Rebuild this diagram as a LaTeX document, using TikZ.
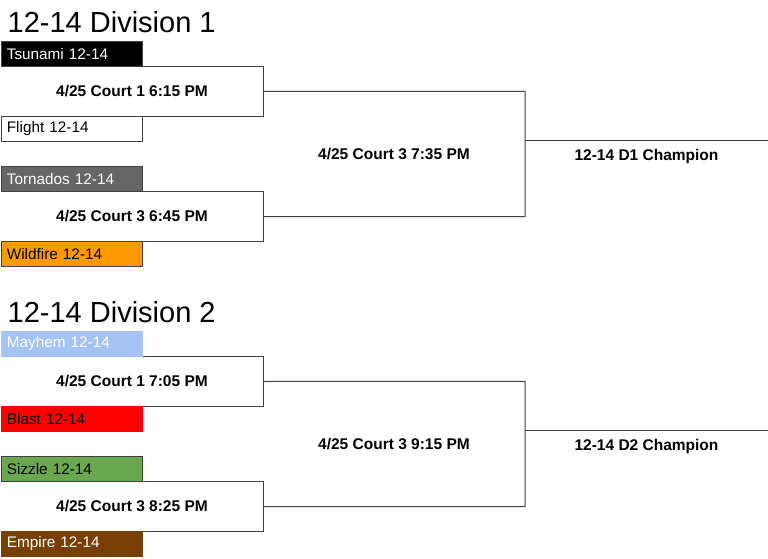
\documentclass[tikz,border=0pt]{standalone}
\usepackage{fontspec}
\setmainfont{Liberation Sans}
\definecolor{tornado}{HTML}{666666}
\definecolor{wildfire}{HTML}{FF9900}
\definecolor{mayhem}{HTML}{A4C2F4}
\definecolor{blast}{HTML}{FF0000}
\definecolor{sizzle}{HTML}{6AA84F}
\definecolor{empire}{HTML}{783F04}
\definecolor{edge}{HTML}{404040}
\tikzset{
  team/.style={anchor=north west, minimum width=141bp, minimum height=25bp, inner ysep=0pt, inner xsep=5.5bp, text width=130bp, align=left, draw=edge, line width=0.8bp, font=\fontsize{15.3bp}{18bp}\selectfont},
  match/.style={minimum width=262bp, minimum height=50bp, inner sep=0pt, font=\bfseries\fontsize{15.5bp}{18bp}\selectfont},
  round/.style={minimum width=262bp, minimum height=125bp, inner sep=0pt, font=\bfseries\fontsize{15.5bp}{18bp}\selectfont},
  champ/.style={minimum width=243bp, minimum height=30bp, inner sep=0pt, font=\bfseries\fontsize{15.5bp}{18bp}\selectfont},
  title/.style={anchor=west, inner sep=0pt, font=\fontsize{29bp}{34bp}\selectfont},
  bracket/.style={draw=edge, line width=1bp}
}
\begin{document}
\begin{tikzpicture}[x=1bp,y=-1bp]
            \useasboundingbox [fill=white] (0,0) rectangle (768,559);
            % division 1
            \node [title] (d1) at (7.5,22) {12-14 Division 1};
            \node [match] (m1) at (132,91.5) {4/25 Court 1 6:15 PM};
            \node [match] (m2) at (132,216.5) {4/25 Court 3 6:45 PM};
            \node [round] (s1) at (394,154) {4/25 Court 3 7:35 PM};
            \node [champ] (c1) at (646.5,156) {12-14 D1 Champion};
            \draw [bracket] (m1.north west) -- (m1.north east) -- (m1.south east) -- (m1.south west);
            \draw [bracket] (m2.north west) -- (m2.north east) -- (m2.south east) -- (m2.south west);
            \draw [bracket] (m1.east) -- (s1.north east) -- (s1.south east) -- (m2.east);
            \draw [bracket] (c1.north west) -- (c1.north east);
            \node [team, fill=black, text=white] (tsunami) at (1,41) {Tsunami 12-14};
            \node [team, fill=white] (flight) at (1,116) {Flight 12-14};
            \node [team, fill=tornado, text=white] (tornados) at (1,166) {Tornados 12-14};
            \node [team, fill=wildfire] (wildfire) at (1,241) {Wildfire 12-14};
            % division 2
            \node [title] (d2) at (7.5,312) {12-14 Division 2};
            \node [match] (m3) at (132,381.5) {4/25 Court 1 7:05 PM};
            \node [match] (m4) at (132,506.5) {4/25 Court 3 8:25 PM};
            \node [round] (s2) at (394,444) {4/25 Court 3 9:15 PM};
            \node [champ] (c2) at (646.5,446) {12-14 D2 Champion};
            \draw [bracket] (m3.north west) -- (m3.north east) -- (m3.south east) -- (m3.south west);
            \draw [bracket] (m4.north west) -- (m4.north east) -- (m4.south east) -- (m4.south west);
            \draw [bracket] (m3.east) -- (s2.north east) -- (s2.south east) -- (m4.east);
            \draw [bracket] (c2.north west) -- (c2.north east);
            \node [team, fill=mayhem, draw=mayhem, text=white] (mayhem) at (1,331) {Mayhem 12-14};
            \node [team, fill=blast, draw=blast] (blast) at (1,406) {Blast 12-14};
            \node [team, fill=sizzle] (sizzle) at (1,456) {Sizzle 12-14};
            \node [team, fill=empire, draw=empire, text=white] (empire) at (1,531) {Empire 12-14};
\end{tikzpicture}
\end{document}
